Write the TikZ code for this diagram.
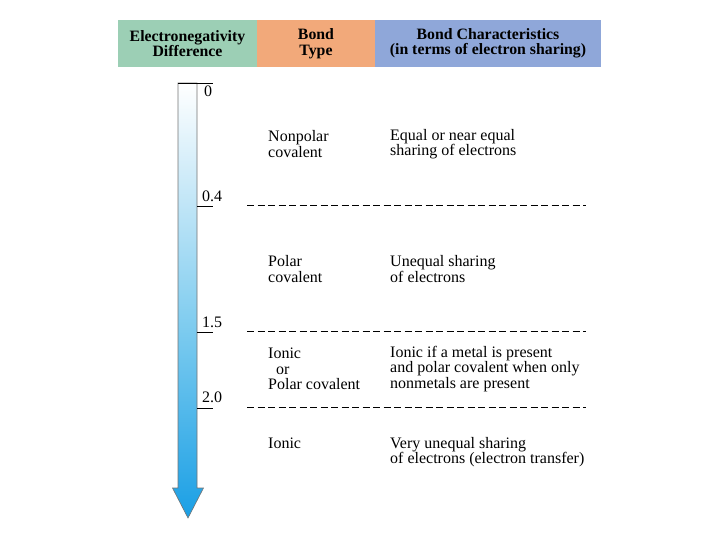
\documentclass[tikz,border=0pt]{standalone}
\usepackage{fontspec}
\setmainfont{Liberation Serif}
\definecolor{hgreen}{HTML}{9CCFB5}
\definecolor{horange}{HTML}{F2A97A}
\definecolor{hblue}{HTML}{8FA7D9}
\definecolor{adark}{HTML}{1A9FE5}
\definecolor{amid}{HTML}{7CCBEF}
\definecolor{alight}{HTML}{C2E6F7}
\pgfdeclareverticalshading{arrowshade}{100bp}{color(0bp)=(adark); color(25bp)=(adark); color(46.6bp)=(amid); color(61.5bp)=(alight); color(75bp)=(white); color(100bp)=(white)}
\begin{document}
\begin{tikzpicture}[x=1pt,y=-1pt,
  txt/.style={inner sep=0pt, anchor=west, align=left, font=\fontsize{16}{15.5}\selectfont},
  hdr/.style={inner sep=0pt, align=center, font=\fontsize{15.8}{15.5}\selectfont\bfseries},
  sep/.style={dash pattern=on 7pt off 3.5pt, line width=0.8pt},
  tick/.style={line width=0.8pt}]
\useasboundingbox (0,0) rectangle (720,540);
% header
\fill[hgreen] (118,20) rectangle (257,67);
\fill[horange] (257,20) rectangle (375,67);
\fill[hblue] (375,20) rectangle (601,67);
\node[hdr] (h1) at (187.5,43.5) {Electronegativity\\Difference};
\node[hdr] (h2) at (316,43.5) {Bond\\Type};
\node[hdr] (h3) at (488,43.5) {Bond Characteristics\\(in terms of electron sharing)};
% arrow
\shade[shading=arrowshade, draw=black!55, line width=0.6pt]
  (178,83) -- (197,83) -- (197,488) -- (203.5,488) -- (188,518) -- (172.5,488) -- (178,488) -- cycle;
\coordinate (t0a) at (178,83);
\coordinate (t0b) at (213,83);
\draw[tick] (t0a) -- (t0b);
\coordinate (t1a) at (197,206); \coordinate (t1b) at (213,206);
\coordinate (t2a) at (197,332); \coordinate (t2b) at (213,332);
\coordinate (t3a) at (197,408); \coordinate (t3b) at (213,408);
\draw[tick] (t1a) -- (t1b);
\draw[tick] (t2a) -- (t2b);
\draw[tick] (t3a) -- (t3b);
\node[txt] (v0) at (204,91) {0};
\node[txt] (v1) at (202,196) {0.4};
\node[txt] (v2) at (202,322) {1.5};
\node[txt] (v3) at (202,397) {2.0};
% dashed separators
\coordinate (d1a) at (247,205); \coordinate (d1b) at (586,205);
\coordinate (d2a) at (247,331); \coordinate (d2b) at (586,331);
\coordinate (d3a) at (247,407); \coordinate (d3b) at (586,407);
\draw[sep] (d1a) -- (d1b);
\draw[sep] (d2a) -- (d2b);
\draw[sep] (d3a) -- (d3b);
% rows
\node[txt] (b1) at (268,144) {Nonpolar\\covalent};
\node[txt] (c1) at (390,144) {Equal or near equal\\sharing of electrons};
\node[txt] (b2) at (268,269) {Polar\\covalent};
\node[txt] (c2) at (390,269) {Unequal sharing\\of electrons};
\node[txt] (b3) at (268,369) {Ionic\\\hspace*{8pt}or\\Polar covalent};
\node[txt] (c3) at (390,369) {Ionic if a metal is present\\and polar covalent when only\\nonmetals are present};
\node[txt] (b4) at (268,443) {Ionic};
\node[txt] (c4) at (390,452) {Very unequal sharing\\of electrons (electron transfer)};
\end{tikzpicture}
\end{document}
